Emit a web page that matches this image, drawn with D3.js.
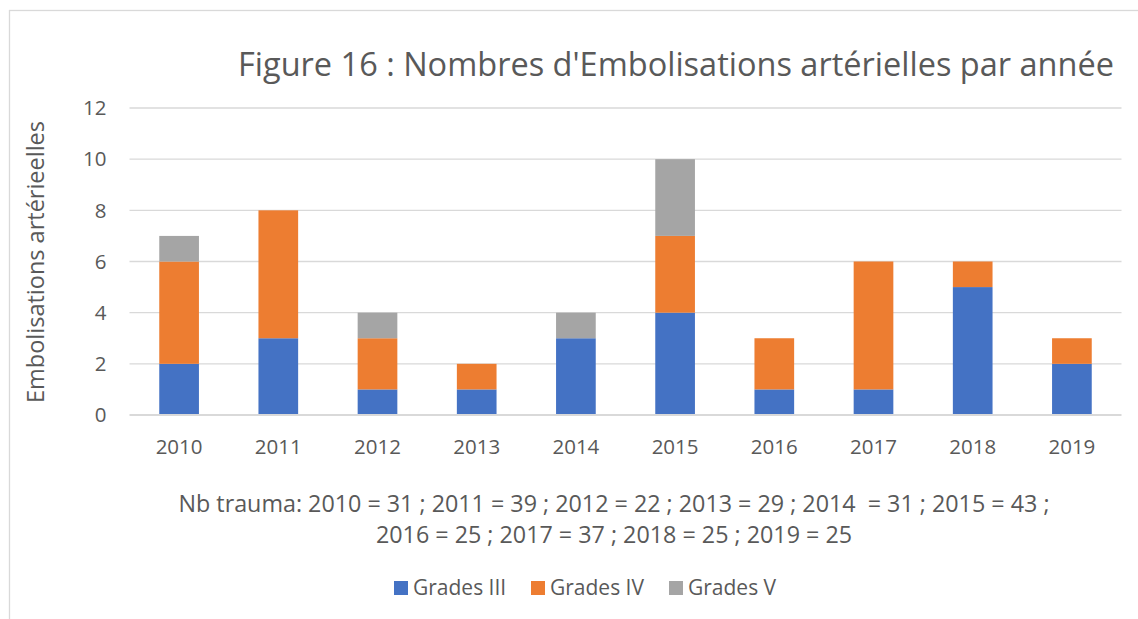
<!DOCTYPE html>
<html>
<head>
<meta charset="utf-8">
<script src="https://cdn.jsdelivr.net/npm/d3@7"></script>
<style>
  body { margin: 0; background: #fff; }
  text { font-family: "Open Sans", sans-serif; fill: #595959; }
</style>
</head>
<body>
<div id="chart"></div>
<script>
// ====== data ======
const years    = ["2010", "2011", "2012", "2013", "2014", "2015", "2016", "2017", "2018", "2019"];
const gradeIII = [2, 3, 1, 1, 3, 4, 1, 1, 5, 2];
const gradeIV  = [4, 5, 2, 1, 0, 3, 2, 5, 1, 1];
const gradeV   = [1, 0, 1, 0, 1, 3, 0, 0, 0, 0];
const seriesNames = ["Grades III", "Grades IV", "Grades V"];
const yTicks = [0, 2, 4, 6, 8, 10, 12];
const title = "Figure 16 : Nombres d'Embolisations artérielles par année";
const yLabel = "Embolisations artérieelles";
const noteLines = [
  "Nb trauma: 2010 = 31 ; 2011 = 39 ; 2012 = 22 ; 2013 = 29 ; 2014  = 31 ; 2015 = 43 ;",
  "2016 = 25 ; 2017 = 37 ; 2018 = 25 ; 2019 = 25"
];

const colors = ["#4472C4", "#ED7D31", "#A5A5A5"];

// ====== chart ======
const width = 1138, height = 619;
const margin = { top: 108, right: 16.5, bottom: 204, left: 129.5 };
const innerW = width - margin.left - margin.right;
const innerH = height - margin.top - margin.bottom;

const svg = d3.select("#chart").append("svg")
  .attr("width", width)
  .attr("height", height);

// outer frame (cut by the picture edge on the right and bottom)
svg.append("rect")
  .attr("x", 9.5).attr("y", 10.5)
  .attr("width", width + 20).attr("height", height + 20)
  .attr("fill", "none")
  .attr("stroke", "#d9d9d9")
  .attr("stroke-width", 1.3);

const g = svg.append("g")
  .attr("transform", `translate(${margin.left},${margin.top})`);

const x = d3.scaleBand()
  .domain(years)
  .range([0, innerW])
  .paddingInner(0.6)
  .paddingOuter(0.3);

const y = d3.scaleLinear()
  .domain([0, 12])
  .range([innerH, 0]);

// gridlines
g.append("g")
  .selectAll("line")
  .data(yTicks.filter(d => d > 0))
  .join("line")
  .attr("x1", 0).attr("x2", innerW)
  .attr("y1", d => y(d)).attr("y2", d => y(d))
  .attr("stroke", "#d9d9d9")
  .attr("stroke-width", 1.3);

// y tick labels
g.append("g")
  .selectAll("text")
  .data(yTicks)
  .join("text")
  .attr("x", -23)
  .attr("y", d => y(d))
  .attr("dy", "0.35em")
  .attr("text-anchor", "end")
  .style("font-size", "20.5px")
  .text(d => d);

// stacked bars
const rows = years.map((yr, i) => ({ year: yr, III: gradeIII[i], IV: gradeIV[i], V: gradeV[i] }));
const stack = d3.stack().keys(["III", "IV", "V"]);
const layers = stack(rows);

g.append("g")
  .selectAll("g")
  .data(layers)
  .join("g")
  .attr("fill", (d, i) => colors[i])
  .selectAll("rect")
  .data(d => d.filter(p => p[1] > p[0]))
  .join("rect")
  .attr("x", d => x(d.data.year))
  .attr("width", x.bandwidth())
  .attr("y", d => y(d[1]))
  .attr("height", d => y(d[0]) - y(d[1]));

// x axis line
g.append("line")
  .attr("x1", 0).attr("x2", innerW)
  .attr("y1", innerH).attr("y2", innerH)
  .attr("stroke", "#d9d9d9")
  .attr("stroke-width", 2);

// x tick labels
g.append("g")
  .selectAll("text")
  .data(years)
  .join("text")
  .attr("x", d => x(d) + x.bandwidth() / 2)
  .attr("y", innerH + 39)
  .attr("text-anchor", "middle")
  .style("font-size", "20.5px")
  .text(d => d);

// title
svg.append("text")
  .attr("x", 676)
  .attr("y", 76)
  .attr("text-anchor", "middle")
  .style("font-size", "32.5px")
  .text(title);

// y axis label
svg.append("text")
  .attr("transform", `translate(44,262) rotate(-90)`)
  .attr("text-anchor", "middle")
  .style("font-size", "23.5px")
  .text(yLabel);

// note under the axis
svg.append("g")
  .selectAll("text")
  .data(noteLines)
  .join("text")
  .attr("x", 614)
  .attr("y", (d, i) => 512 + i * 31)
  .attr("text-anchor", "middle")
  .attr("xml:space", "preserve")
  .style("font-size", "23.3px")
  .text(d => d);

// legend
const legendX = [394, 531, 669];
const legend = svg.append("g");
seriesNames.forEach((name, i) => {
  legend.append("rect")
    .attr("x", legendX[i]).attr("y", 581)
    .attr("width", 14).attr("height", 14)
    .attr("fill", colors[i]);
  legend.append("text")
    .attr("x", legendX[i] + 19)
    .attr("y", 595)
    .style("font-size", "21px")
    .text(name);
});
</script>
</body>
</html>
